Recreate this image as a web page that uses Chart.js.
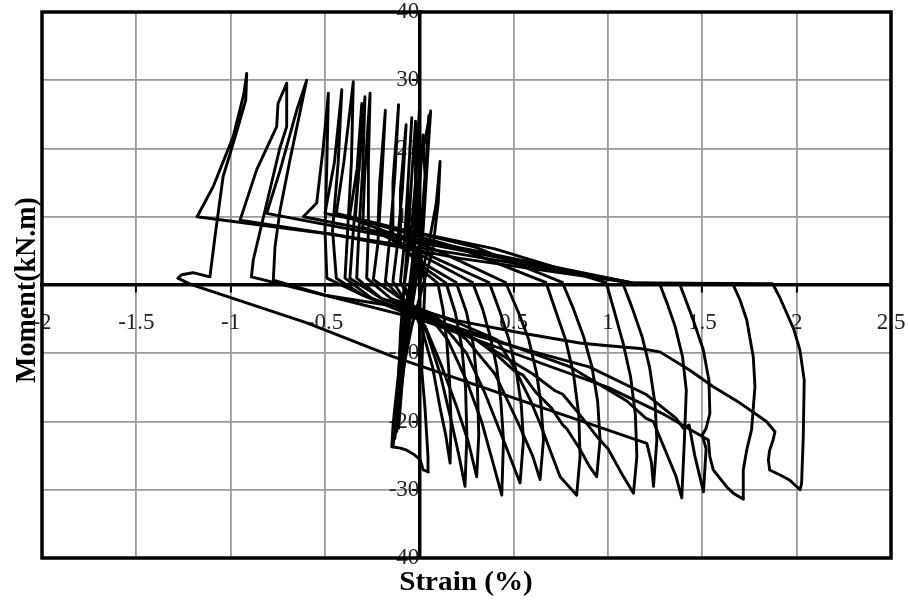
<!DOCTYPE html>
<html>
<head>
<meta charset="utf-8">
<script src="https://cdn.jsdelivr.net/npm/chart.js@4.4.1/dist/chart.umd.min.js"></script>
<style>
html,body{margin:0;padding:0;background:#fff;}
#wrap{width:908px;height:600px;position:relative;}
</style>
</head>
<body>
<div id="wrap"><canvas id="c" width="908" height="600"></canvas></div>
<script>
// Axis ticks
const xTicks = [-2, -1.5, -1, -0.5, 0, 0.5, 1, 1.5, 2, 2.5];
const yTicks = [-40, -30, -20, -10, 0, 10, 20, 30, 40];
const xTitle = 'Strain (%)';
const yTitle = 'Moment(kN.m)';

// Hysteresis cycles: [strain %, moment kN.m]
const cycle00a = [[0,0],[0.01,8],[0.03,16],[0.02,22],[0.0,14],[-0.03,5],[-0.06,-2],[-0.08,-9],[-0.1,-16],[-0.11,-21],[-0.09,-14],[-0.06,-6],[-0.03,0]];
const cycle00b = [[-0.03,0],[-0.02,9],[0.0,17],[0.06,25.5],[0.04,17],[0.02,8],[-0.02,0],[-0.06,-7],[-0.09,-14],[-0.12,-20],[-0.13,-22.5],[-0.11,-16],[-0.07,-7],[-0.04,0]];
const cycle00c = [[-0.04,0],[-0.03,7],[-0.02,15],[-0.02,24],[-0.04,16],[-0.06,7],[-0.08,0],[-0.1,-7],[-0.11,-14],[-0.12,-21.5],[-0.1,-14],[-0.08,-6],[-0.05,0]];
const cycle01 = [[0,0],[0.05,6],[0.09,12],[0.11,18.1],[0.1,12],[0.07,5],[0.02,0],[-0.04,-6],[-0.09,-13],[-0.12,-19],[-0.14,-23.7],[-0.12,-17],[-0.1,-9],[-0.07,-3],[-0.05,0]];
const cycle02 = [[-0.05,0],[0.0,6],[0.03,14],[0.05,24.8],[0.03,14],[0.0,5],[-0.04,0],[-0.08,-6],[-0.11,-13],[-0.13,-18],[-0.14,-20.8],[-0.146,-23.7],[-0.1,-23.9],[-0.067,-24.2],[-0.03,-24.8],[0.004,-25.6],[0.021,-27.1],[0.048,-27.4],[0.046,-25.2],[0.03,-18],[0.013,-12.5],[0.02,-6],[0.03,0]];
const cycle03 = [[0.03,0],[0.0,6],[-0.02,14],[0.0,25.6],[-0.02,15],[-0.05,6],[-0.08,0],[-0.04,-3],[0.02,-7],[0.07,-12],[0.11,-18],[0.14,-22],[0.163,-26.1],[0.168,-20],[0.16,-14],[0.145,-8],[0.125,-3.5],[0.1,0]];
const cycle04 = [[0.1,0.2],[0.0,2.5],[-0.06,7],[-0.06,15],[-0.04,24.5],[-0.06,15],[-0.08,6],[-0.1,0.5],[-0.04,-3],[0.04,-7],[0.11,-13],[0.17,-20],[0.21,-25],[0.242,-29.5],[0.252,-22],[0.245,-15],[0.225,-9],[0.19,-4],[0.145,0]];
const cycle05 = [[0.145,0.2],[0.0,3],[-0.1,6],[-0.1,14],[-0.07,23.5],[-0.09,14],[-0.12,5],[-0.14,0.5],[-0.06,-3],[0.03,-6],[0.12,-12],[0.2,-18],[0.26,-23],[0.304,-28.1],[0.315,-22],[0.308,-15],[0.288,-9],[0.25,-4],[0.2,0]];
const cycle06 = [[0.2,0.3],[0.0,3.5],[-0.14,6.5],[-0.14,15],[-0.11,26.4],[-0.13,16],[-0.16,6],[-0.18,0.5],[-0.08,-2.5],[0.05,-4.5],[0.15,-8],[0.25,-14],[0.33,-20],[0.38,-25],[0.437,-30.8],[0.446,-22.7],[0.432,-17],[0.41,-12],[0.375,-7.5],[0.335,-3.5],[0.287,0]];
const cycle07 = [[0.287,0.3],[0.0,4.5],[-0.22,8],[-0.21,15],[-0.18,25.6],[-0.2,15],[-0.22,6],[-0.244,0.8],[-0.1,-2],[0.1,-5],[0.25,-10],[0.35,-16],[0.45,-23],[0.534,-29.0],[0.552,-22.7],[0.54,-17.5],[0.516,-13],[0.475,-8],[0.428,-4],[0.375,0]];
const cycle08 = [[0.375,0.3],[0.0,5],[-0.3,8.5],[-0.29,16],[-0.261,28.1],[-0.27,18],[-0.27,8],[-0.279,1],[-0.15,-2],[0.05,-4],[0.25,-8],[0.4,-13],[0.52,-20],[0.6,-25],[0.64,-28.5],[0.658,-22.7],[0.645,-17.5],[0.622,-13],[0.58,-8],[0.525,-4],[0.463,0]];
const cycle09 = [[0.463,0.3],[0.1,5],[-0.34,9.5],[-0.32,17],[-0.288,27.6],[-0.3,17],[-0.32,8],[-0.332,1],[-0.2,-2],[0.0,-3.5],[0.2,-5.5],[0.41,-8],[0.499,-11.9],[0.587,-16.8],[0.64,-20.3],[0.693,-24.2],[0.746,-28.1],[0.834,-30.8],[0.852,-25.1],[0.845,-19],[0.817,-13],[0.775,-8],[0.725,-4],[0.676,0]];
const cycle10 = [[0.676,0.3],[0.2,5.5],[-0.37,10],[-0.33,17],[-0.305,26.6],[-0.32,17],[-0.35,8],[-0.368,1],[-0.2,-2],[0.0,-4],[0.3,-8],[0.42,-10.5],[0.5,-12.5],[0.55,-13.2],[0.62,-15.8],[0.7,-18],[0.76,-20.5],[0.78,-21],[0.85,-24],[0.9,-26.5],[0.94,-28.1],[0.958,-22.7],[0.945,-17],[0.915,-12],[0.87,-7.5],[0.817,-3.5],[0.764,0]];
const cycle11 = [[0.764,0.3],[0.3,5.5],[-0.44,10.5],[-0.4,18],[-0.35,29.8],[-0.36,18],[-0.38,8],[-0.394,1],[-0.25,-2],[0.0,-4.5],[0.3,-8],[0.6,-13],[0.72,-15.5],[0.76,-16],[0.85,-19],[0.95,-22.5],[1.0,-24],[1.08,-28],[1.135,-30.5],[1.153,-25.1],[1.145,-19],[1.12,-13.5],[1.08,-8.5],[1.035,-4],[0.994,0]];
const cycle12 = [[0.994,0.3],[0.4,5.3],[-0.5,10.5],[-0.45,18],[-0.411,28.6],[-0.43,18],[-0.46,8],[-0.44,1],[-0.3,-1.5],[0.0,-4.5],[0.4,-8],[0.8,-12],[1.1,-17],[1.2,-19.5],[1.24,-20],[1.3,-24],[1.36,-28],[1.391,-31.2],[1.405,-22.7],[1.415,-15.4],[1.395,-10.5],[1.355,-6],[1.315,-2.8],[1.276,0]];
const cycle13 = [[1.276,0.2],[1.13,0.3],[0.3,5.0],[-0.615,10],[-0.544,12],[-0.51,20],[-0.482,28.1],[-0.49,18],[-0.5,8],[-0.49,1],[-0.3,-1.5],[0.0,-5],[0.5,-9],[0.9,-12],[1.2,-16],[1.36,-19.5],[1.4,-21],[1.43,-20.5],[1.44,-22],[1.46,-25],[1.506,-30.3],[1.52,-24],[1.5,-22],[1.52,-21],[1.54,-18.8],[1.535,-14],[1.505,-9.5],[1.45,-5],[1.382,0]];
const cycle14 = [[1.382,0.2],[1.13,0.3],[0.2,5.2],[-0.809,10.5],[-0.738,16.8],[-0.65,25.6],[-0.597,30.0],[-0.686,18.3],[-0.738,11],[-0.765,5.6],[-0.774,0.7],[-0.5,-1.5],[0.0,-5],[0.5,-10],[1.0,-15],[1.3,-19],[1.532,-22.7],[1.54,-25.2],[1.558,-27.1],[1.63,-29.6],[1.664,-30.5],[1.718,-31.4],[1.717,-27.1],[1.735,-24.2],[1.761,-21.2],[1.779,-14.9],[1.77,-10.5],[1.735,-5.1],[1.7,-2.2],[1.664,0]];
const cycle15 = [[1.664,0.2],[1.13,0.3],[0.2,4.6],[-0.95,9.5],[-0.862,16.9],[-0.756,23.2],[-0.749,26.6],[-0.703,29.55],[-0.703,23.2],[-0.74,20],[-0.8,13],[-0.88,3.7],[-0.89,1.2],[-0.5,-1.5],[0.004,-3.7],[0.18,-5.1],[0.533,-7.0],[0.85,-8.5],[0.957,-8.8],[1.17,-9.3],[1.275,-9.8],[1.434,-12.5],[1.558,-14.9],[1.70,-17.3],[1.84,-20.0],[1.885,-21.5],[1.875,-22.7],[1.857,-24.2],[1.85,-25.6],[1.857,-27.1],[1.91,-27.8],[1.964,-28.6],[2.018,-30.0],[2.026,-29.1],[2.035,-22.2],[2.04,-13.9],[2.017,-9.5],[1.985,-6.5],[1.947,-4.1],[1.91,-1.8],[1.876,0]];
const cycle16 = [[1.876,0.2],[1.13,0.3],[0.215,3.9],[-0.456,7.4],[-1.178,10.0],[-1.093,14.4],[-0.987,21.7],[-0.93,28],[-0.915,31.0],[-0.92,27.1],[-0.976,21.7],[-1.04,15.9],[-1.083,7.1],[-1.11,1.2],[-1.2,1.8],[-1.26,1.5],[-1.28,1.0],[-1.22,0.2],[-1.18,-0.2],[-0.6,-5.5],[-0.14,-10.5],[0.02,-12],[0.6,-17.5],[1.206,-23.2],[1.23,-26],[1.241,-29.5],[1.259,-22.7],[1.25,-17.5],[1.22,-12],[1.18,-7.5],[1.13,-3.5],[1.082,0]];

const cycles = [cycle00a, cycle00b, cycle00c, cycle01, cycle02, cycle03, cycle04, cycle05, cycle06, cycle07,
                cycle08, cycle09, cycle10, cycle11, cycle12, cycle13, cycle14, cycle15, cycle16];

const tickFont = {family: 'Liberation Serif', size: 23, lineHeight: 1};

const framePlugin = {
  id: 'frame',
  beforeDatasetsDraw(chart) {
    const {ctx, chartArea: a} = chart;
    ctx.save();
    ctx.strokeStyle = '#000';
    ctx.lineWidth = 3.5;
    ctx.strokeRect(a.left, a.top, a.right - a.left, a.bottom - a.top);
    ctx.restore();
  }
};

const titlePlugin = {
  id: 'axisTitles',
  afterDraw(chart) {
    const {ctx} = chart;
    ctx.save();
    ctx.fillStyle = '#000';
    ctx.save();
    ctx.translate(466, 590);
    ctx.scale(1.08, 1);
    ctx.font = 'bold 27px "Liberation Serif"';
    ctx.textAlign = 'center';
    ctx.textBaseline = 'alphabetic';
    ctx.fillText(xTitle, 0, 0);
    ctx.restore();
    ctx.save();
    ctx.translate(35, 290);
    ctx.scale(1.08, 1);
    ctx.rotate(-Math.PI / 2);
    ctx.font = 'bold 28px "Liberation Serif"';
    ctx.textAlign = 'center';
    ctx.textBaseline = 'alphabetic';
    ctx.fillText(yTitle, 0, 0);
    ctx.restore();
    ctx.restore();
  }
};

const zeroPad = s => { s.paddingTop = 0; s.paddingBottom = 0; s.paddingLeft = 0; s.paddingRight = 0; };

new Chart(document.getElementById('c'), {
  type: 'scatter',
  data: {
    datasets: cycles.map(c => ({
      data: c.map(p => ({x: p[0], y: p[1]})),
      showLine: true,
      borderColor: '#000',
      backgroundColor: '#000',
      borderWidth: 2.9,
      borderJoinStyle: 'round',
      pointRadius: 0,
      tension: 0,
      fill: false
    }))
  },
  options: {
    responsive: false,
    animation: false,
    layout: {padding: {left: 42, right: 17, top: 12, bottom: 42}},
    plugins: {legend: {display: false}, tooltip: {enabled: false}},
    scales: {
      x: {
        type: 'linear', min: -2, max: 2.5, position: {y: 0},
        afterBuildTicks: s => { s.ticks = xTicks.map(v => ({value: v})); },
        afterFit: zeroPad,
        ticks: {
          callback: v => (v === 0 ? '' : String(v)),
          font: tickFont, color: '#222', padding: 20, maxRotation: 0, autoSkip: false
        },
        grid: {color: '#9a9a9a', lineWidth: 1.8, drawTicks: true, tickLength: 6, tickColor: '#000', tickWidth: 2},
        border: {display: true, color: '#000', width: 3.5}
      },
      y: {
        type: 'linear', min: -40, max: 40, position: {x: 0},
        afterBuildTicks: s => { s.ticks = yTicks.map(v => ({value: v})); },
        afterFit: zeroPad,
        ticks: {
          callback: v => (v === 0 ? '' : String(v)),
          font: tickFont, color: '#222', padding: 16, autoSkip: false
        },
        grid: {color: '#9a9a9a', lineWidth: 1.8, drawTicks: true, tickLength: 6, tickColor: '#000', tickWidth: 2},
        border: {display: true, color: '#000', width: 3.5}
      }
    }
  },
  plugins: [framePlugin, titlePlugin]
});
</script>
</body>
</html>
